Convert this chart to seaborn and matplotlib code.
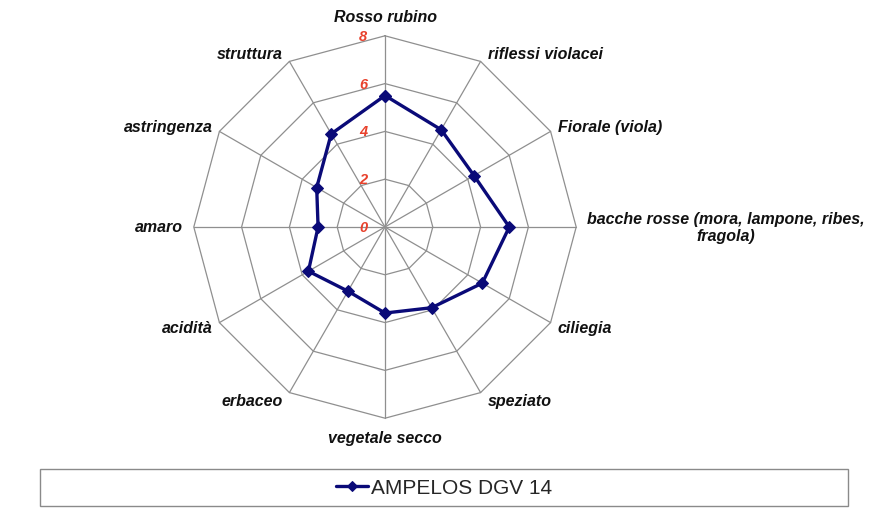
import numpy as np
import pandas as pd
import matplotlib
matplotlib.use("Agg")
import matplotlib.pyplot as plt
import seaborn as sns
from matplotlib.patches import Rectangle

# Sensory profile of the wine (scores on a 0-8 scale)
attributes = [
    "Rosso rubino", "riflessi violacei", "Fiorale (viola)",
    "bacche rosse (mora, lampone, ribes,\nfragola)", "ciliegia", "speziato",
    "vegetale secco", "erbaceo", "acidità", "amaro", "astringenza", "struttura",
]
scores = [5.5, 4.7, 4.3, 5.2, 4.7, 3.9, 3.6, 3.1, 3.7, 2.8, 3.3, 4.5]
ring_levels = [0, 2, 4, 6, 8]
series_name = "AMPELOS DGV 14"

sns.set_theme(style="white")
plt.rcParams["font.family"] = ["Liberation Sans", "DejaVu Sans"]

W, H = 880, 510
fig = plt.figure(figsize=(W / 100, H / 100), dpi=100)
fig.patch.set_facecolor("white")
ax = fig.add_axes([0, 0, 1, 1])

# radar centre in pixels and pixels per score unit
cx, cy = 385, 228
scale = 23.9
ax.set_xlim(-cx / scale, (W - cx) / scale)
ax.set_ylim(-(H - cy) / scale, cy / scale)
ax.set_aspect("equal")
ax.axis("off")

n = len(attributes)
theta = 2 * np.pi * np.arange(n) / n
rmax = max(ring_levels)
grid_col = "#8f8f8f"

# polygon rings
for r in ring_levels[1:]:
    gx = np.append(r * np.sin(theta), r * np.sin(theta[0]))
    gy = np.append(r * np.cos(theta), r * np.cos(theta[0]))
    ax.plot(gx, gy, color=grid_col, lw=0.9, zorder=1)

# spokes
for t in theta:
    ax.plot([0, rmax * np.sin(t)], [0, rmax * np.cos(t)], color=grid_col, lw=0.9, zorder=1)

# value labels along the vertical axis
for r in ring_levels:
    ax.text(-0.92, r, str(r), color="#E8412C", fontsize=10.5, fontweight="bold",
            fontstyle="italic", ha="center", va="center", zorder=3)

# category labels around the outer ring
for t, lab in zip(theta, attributes):
    tx, ty = rmax * np.sin(t), rmax * np.cos(t)
    s, c = np.sin(t), np.cos(t)
    if abs(s) < 1e-6:
        ha, dx, dy = "center", 0, 19 * np.sign(c)
    else:
        ha = "left" if s > 0 else "right"
        pad = 11 if abs(abs(s) - 1) < 1e-6 else 7
        dx = pad * np.sign(s)
        dy = 9 * c
    ax.annotate(lab, (tx, ty), xytext=(dx * 0.72, dy * 0.72), textcoords="offset points",
                ha=ha, va="center", multialignment="center", fontsize=11.5,
                fontweight="bold", fontstyle="italic", color="#111111",
                linespacing=1.1, zorder=3)

# data polygon
closed = scores + scores[:1]
tc = np.append(theta, theta[0])
df = pd.DataFrame({"x": np.array(closed) * np.sin(tc), "y": np.array(closed) * np.cos(tc)})
navy = "#0A0A78"
sns.lineplot(data=df, x="x", y="y", sort=False, estimator=None, ax=ax, color=navy,
             lw=2.4, marker="D", markersize=6.5, markeredgecolor=navy,
             markerfacecolor=navy, label=series_name, zorder=4)
handles, labels = ax.get_legend_handles_labels()
if ax.get_legend() is not None:
    ax.get_legend().remove()

# legend box at the bottom
fig.patches.append(Rectangle((40 / W, 1 - 507 / H), 808 / W, 37 / H,
                             transform=fig.transFigure, fill=False,
                             ec="#8a8a8a", lw=1.0))
fig.legend(handles, labels, loc="center", bbox_to_anchor=(444 / W, 1 - 488.5 / H),
           frameon=False, prop={"size": 15, "family": ["Liberation Sans"]},
           handlelength=1.5, handletextpad=0.15, markerscale=0.8)

fig.savefig("out.png", dpi=100, facecolor="white")
